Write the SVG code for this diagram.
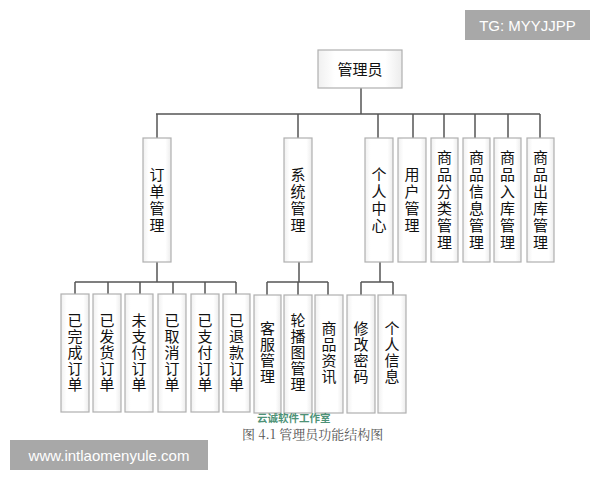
<svg xmlns="http://www.w3.org/2000/svg" width="600" height="480" viewBox="0 0 600 480">
<defs>
<linearGradient id="bg" x1="0" y1="0" x2="1" y2="0">
<stop offset="0" stop-color="#f0f0f0"/><stop offset="0.2" stop-color="#ffffff"/><stop offset="0.8" stop-color="#ffffff"/><stop offset="1" stop-color="#ececec"/>
</linearGradient>
</defs>
<style>
.box{fill:url(#bg);stroke:#b0b0b0;stroke-width:1.2}
.t{font-family:"Noto Sans CJK SC","Noto Sans",sans-serif;font-size:15px;fill:#111;text-anchor:middle}
.ln{stroke:#555;stroke-width:1.5;fill:none}
.wm{fill:#a8a8a8}
.wt{font-family:"Liberation Sans",Arial,sans-serif;font-size:15px;fill:#fff}
</style>
<rect width="600" height="480" fill="#fff"/>
<g id="connectors" class="ln">
<path d="M361 88V114M156 114H540M157 114V138M298 114V138M378 114V138M413 114V138M444 114V138M475 114V138M508 114V138M540 114V138"/>
<path d="M157 262V282M75 282H236M75 282V294M108 282V294M140 282V294M173 282V294M205 282V294M236 282V294"/>
<path d="M299 262V282M267 282H328M267 282V295M298 282V295M328 282V295"/>
<path d="M380 262V282M361 282H393M361 282V295M393 282V295"/>
</g>
<g id="n_admin"><rect class="box" x="318" y="50" width="84" height="38"/><text class="t" x="360" y="75">管理员</text></g>
<g id="n_order"><rect class="box" x="143" y="138" width="28" height="124"/><text class="t" x="157" y="179.5"><tspan x="157">订</tspan><tspan x="157" dy="17">单</tspan><tspan x="157" dy="17">管</tspan><tspan x="157" dy="17">理</tspan></text></g>
<g id="n_sys"><rect class="box" x="284" y="138" width="28" height="124"/><text class="t" x="298" y="179.5"><tspan x="298">系</tspan><tspan x="298" dy="17">统</tspan><tspan x="298" dy="17">管</tspan><tspan x="298" dy="17">理</tspan></text></g>
<g id="n_personal"><rect class="box" x="365" y="138" width="28" height="124"/><text class="t" x="379" y="179.5"><tspan x="379">个</tspan><tspan x="379" dy="17">人</tspan><tspan x="379" dy="17">中</tspan><tspan x="379" dy="17">心</tspan></text></g>
<g id="n_user"><rect class="box" x="398" y="138" width="28" height="124"/><text class="t" x="412" y="179.5"><tspan x="412">用</tspan><tspan x="412" dy="17">户</tspan><tspan x="412" dy="17">管</tspan><tspan x="412" dy="17">理</tspan></text></g>
<g id="n_cat"><rect class="box" x="431" y="138" width="27" height="124"/><text class="t" x="444.5" y="162.5"><tspan x="444.5">商</tspan><tspan x="444.5" dy="17">品</tspan><tspan x="444.5" dy="17">分</tspan><tspan x="444.5" dy="17">类</tspan><tspan x="444.5" dy="17">管</tspan><tspan x="444.5" dy="17">理</tspan></text></g>
<g id="n_info"><rect class="box" x="463" y="138" width="27" height="124"/><text class="t" x="476.5" y="162.5"><tspan x="476.5">商</tspan><tspan x="476.5" dy="17">品</tspan><tspan x="476.5" dy="17">信</tspan><tspan x="476.5" dy="17">息</tspan><tspan x="476.5" dy="17">管</tspan><tspan x="476.5" dy="17">理</tspan></text></g>
<g id="n_in"><rect class="box" x="494" y="138" width="27" height="124"/><text class="t" x="507.5" y="162.5"><tspan x="507.5">商</tspan><tspan x="507.5" dy="17">品</tspan><tspan x="507.5" dy="17">入</tspan><tspan x="507.5" dy="17">库</tspan><tspan x="507.5" dy="17">管</tspan><tspan x="507.5" dy="17">理</tspan></text></g>
<g id="n_out"><rect class="box" x="527" y="138" width="27" height="124"/><text class="t" x="540.5" y="162.5"><tspan x="540.5">商</tspan><tspan x="540.5" dy="17">品</tspan><tspan x="540.5" dy="17">出</tspan><tspan x="540.5" dy="17">库</tspan><tspan x="540.5" dy="17">管</tspan><tspan x="540.5" dy="17">理</tspan></text></g>
<g id="n_done"><rect class="box" x="61" y="294" width="28" height="118"/><text class="t" x="75" y="326"><tspan x="75">已</tspan><tspan x="75" dy="16">完</tspan><tspan x="75" dy="16">成</tspan><tspan x="75" dy="16">订</tspan><tspan x="75" dy="16">单</tspan></text></g>
<g id="n_shipped"><rect class="box" x="93" y="294" width="28" height="118"/><text class="t" x="107" y="326"><tspan x="107">已</tspan><tspan x="107" dy="16">发</tspan><tspan x="107" dy="16">货</tspan><tspan x="107" dy="16">订</tspan><tspan x="107" dy="16">单</tspan></text></g>
<g id="n_unpaid"><rect class="box" x="125" y="294" width="28" height="118"/><text class="t" x="139" y="326"><tspan x="139">未</tspan><tspan x="139" dy="16">支</tspan><tspan x="139" dy="16">付</tspan><tspan x="139" dy="16">订</tspan><tspan x="139" dy="16">单</tspan></text></g>
<g id="n_cancel"><rect class="box" x="158" y="294" width="28" height="118"/><text class="t" x="172" y="326"><tspan x="172">已</tspan><tspan x="172" dy="16">取</tspan><tspan x="172" dy="16">消</tspan><tspan x="172" dy="16">订</tspan><tspan x="172" dy="16">单</tspan></text></g>
<g id="n_paid"><rect class="box" x="191" y="294" width="28" height="118"/><text class="t" x="205" y="326"><tspan x="205">已</tspan><tspan x="205" dy="16">支</tspan><tspan x="205" dy="16">付</tspan><tspan x="205" dy="16">订</tspan><tspan x="205" dy="16">单</tspan></text></g>
<g id="n_refund"><rect class="box" x="223" y="294" width="27" height="118"/><text class="t" x="236.5" y="326"><tspan x="236.5">已</tspan><tspan x="236.5" dy="16">退</tspan><tspan x="236.5" dy="16">款</tspan><tspan x="236.5" dy="16">订</tspan><tspan x="236.5" dy="16">单</tspan></text></g>
<g id="n_service"><rect class="box" x="254" y="295" width="27" height="118"/><text class="t" x="267.5" y="334"><tspan x="267.5">客</tspan><tspan x="267.5" dy="16">服</tspan><tspan x="267.5" dy="16">管</tspan><tspan x="267.5" dy="16">理</tspan></text></g>
<g id="n_carousel"><rect class="box" x="284" y="295" width="28" height="118"/><text class="t" x="298" y="326"><tspan x="298">轮</tspan><tspan x="298" dy="16">播</tspan><tspan x="298" dy="16">图</tspan><tspan x="298" dy="16">管</tspan><tspan x="298" dy="16">理</tspan></text></g>
<g id="n_news"><rect class="box" x="315" y="295" width="28" height="118"/><text class="t" x="329" y="334"><tspan x="329">商</tspan><tspan x="329" dy="16">品</tspan><tspan x="329" dy="16">资</tspan><tspan x="329" dy="16">讯</tspan></text></g>
<g id="n_pwd"><rect class="box" x="347" y="295" width="28" height="118"/><text class="t" x="361" y="334"><tspan x="361">修</tspan><tspan x="361" dy="16">改</tspan><tspan x="361" dy="16">密</tspan><tspan x="361" dy="16">码</tspan></text></g>
<g id="n_pinfo"><rect class="box" x="378" y="295" width="28" height="118"/><text class="t" x="392" y="334"><tspan x="392">个</tspan><tspan x="392" dy="16">人</tspan><tspan x="392" dy="16">信</tspan><tspan x="392" dy="16">息</tspan></text></g>
<text x="242" y="439" font-family="'Noto Serif CJK SC','Noto Sans CJK SC',serif" font-size="13" fill="#555">图 4.1 管理员功能结构图</text>
<text x="257" y="421.5" font-family="'Noto Sans CJK SC',sans-serif" font-size="10.5" font-weight="bold" fill="#2e8060" opacity="0.85">云诚软件工作室</text>
<rect class="wm" x="465" y="10" width="125" height="30"/>
<text class="wt" x="527.5" y="31" text-anchor="middle">TG: MYYJJPP</text>
<rect class="wm" x="10" y="440" width="198" height="30"/>
<text class="wt" x="109" y="461" text-anchor="middle">www.intlaomenyule.com</text>
</svg>
